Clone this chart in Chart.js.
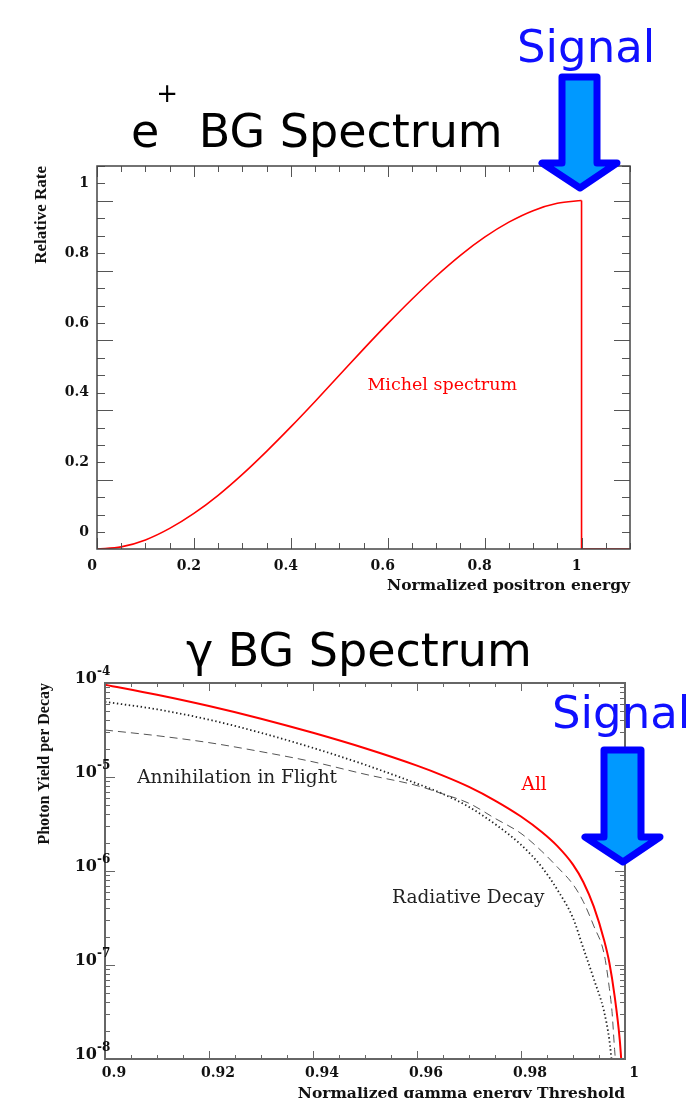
<!DOCTYPE html>
<html>
<head>
<meta charset="utf-8">
<script src="https://cdn.jsdelivr.net/npm/chart.js@4.4.1/dist/chart.umd.min.js"></script>
<style>
  html, body { margin: 0; padding: 0; background: #fff; overflow: hidden; }
  body { width: 700px; height: 1098px; position: relative; }
  .plot { position: absolute; left: 0; }
  #overlay { position: absolute; left: 0; top: 0; z-index: 5; pointer-events: none; }
</style>
</head>
<body>
<div class="plot" style="top:150px"><canvas id="ePlot" width="700" height="460"></canvas></div>
<div class="plot" style="top:660px"><canvas id="gPlot" width="700" height="460"></canvas></div>

<svg id="overlay" width="700" height="1098">
  <text x="131" y="147" font-family="DejaVu Sans" font-size="46" fill="#000">e<tspan dx="-3" dy="-45" font-size="26">+</tspan><tspan dx="6" dy="45"> BG Spectrum</tspan></text>
  <text x="186" y="666" font-family="DejaVu Sans" font-size="46" fill="#000">γ BG Spectrum</text>
  <text x="517" y="62" font-family="DejaVu Sans" font-size="45" fill="#1010ff">Signal</text>
  <text x="552" y="728" font-family="DejaVu Sans" font-size="45" fill="#1010ff">Signal</text>
  <path d="M562 77 L597 77 L597 163 L617 163 L580 188 L542 163 L562 163 Z"
        fill="#0099ff" stroke="#0000ff" stroke-width="7" stroke-linejoin="round"/>
  <path d="M604 750 L641 750 L641 837 L660 837 L623 862 L585 837 L604 837 Z"
        fill="#0099ff" stroke="#0000ff" stroke-width="7" stroke-linejoin="round"/>
</svg>

<script>
// e+ spectrum (Michel)
const positronEnergy = [0, 0.05, 0.1, 0.15, 0.2, 0.25, 0.3, 0.35, 0.4, 0.45, 0.5, 0.55,
  0.6, 0.65, 0.7, 0.75, 0.8, 0.85, 0.9, 0.95, 1.0, 1.0, 1.1];
const michelRate = [-0.048, -0.042, -0.022, 0.011, 0.054, 0.106, 0.166, 0.232, 0.302, 0.375, 0.45, 0.525,
  0.598, 0.668, 0.734, 0.794, 0.846, 0.889, 0.922, 0.943, 0.951, -0.048, -0.048];

// gamma spectrum, three curves
const allX = [0.9, 0.91, 0.92, 0.93, 0.94, 0.95, 0.96, 0.965, 0.97, 0.975, 0.98, 0.984, 0.987,
  0.99, 0.992, 0.994, 0.996, 0.997, 0.998, 0.999, 0.9994];
const allYield = [9.6e-5, 7.5e-5, 5.69e-5, 4.17e-5, 2.95e-5, 2.02e-5, 1.32e-5, 1.035e-5, 7.85e-6, 5.62e-6, 3.8e-6, 2.6e-6, 1.84e-6,
  1.17e-6, 7.6e-7, 4.17e-7, 1.82e-7, 1.05e-7, 4.7e-8, 1.58e-8, 7.9e-9];

const radX = [0.9, 0.91, 0.92, 0.93, 0.94, 0.95, 0.96, 0.965, 0.97, 0.975, 0.98, 0.984, 0.987,
  0.99, 0.992, 0.994, 0.996, 0.997, 0.9975];
const radYield = [6.3e-5, 5.25e-5, 4.07e-5, 2.95e-5, 2.04e-5, 1.35e-5, 8.5e-6, 6.6e-6, 4.8e-6, 3.16e-6, 1.9e-6, 1.1e-6, 6.3e-7,
  3.16e-7, 1.5e-7, 7.1e-8, 3.16e-8, 1.58e-8, 8.9e-9];

const aifX = [0.9, 0.91, 0.92, 0.93, 0.94, 0.95, 0.96, 0.965, 0.97, 0.975, 0.98, 0.984, 0.987,
  0.99, 0.992, 0.994, 0.996, 0.997, 0.9975, 0.998, 0.9983];
const aifYield = [3.16e-5, 2.75e-5, 2.32e-5, 1.86e-5, 1.45e-5, 1.07e-5, 8.1e-6, 6.6e-6, 5.25e-6, 3.63e-6, 2.51e-6, 1.62e-6, 1.1e-6,
  7.2e-7, 4.7e-7, 2.6e-7, 1.3e-7, 5.6e-8, 3.2e-8, 1.26e-8, 8e-9];

const gammaDecades = [1e-4, 1e-5, 1e-6, 1e-7, 1e-8];
const decadeLabels = ['-4', '-5', '-6', '-7', '-8'];

const serifBold = (size) => ({ family: 'DejaVu Serif', weight: 'bold', size });
const pts = (xs, ys) => xs.map((x, i) => ({ x, y: ys[i] }));
const fmt = (v) => String(Number(v.toFixed(3)));

// box + ROOT-style inward ticks on all four sides
const frameTicks = {
  id: 'frameTicks',
  afterDraw(chart, args, o) {
    const { ctx, chartArea: a, scales: { x, y } } = chart;
    ctx.save();
    ctx.strokeStyle = o.tickColor;
    ctx.lineWidth = 1;
    ctx.beginPath();
    o.xTicks.forEach(([v, len]) => {
      const px = Math.round(x.getPixelForValue(v)) + 0.5;
      ctx.moveTo(px, a.bottom); ctx.lineTo(px, a.bottom - len);
      ctx.moveTo(px, a.top); ctx.lineTo(px, a.top + len);
    });
    o.yTicks.forEach(([v, len]) => {
      const py = Math.round(y.getPixelForValue(v)) + 0.5;
      ctx.moveTo(a.left, py); ctx.lineTo(a.left + len, py);
      ctx.moveTo(a.right, py); ctx.lineTo(a.right - len, py);
    });
    ctx.stroke();
    ctx.strokeStyle = o.color;
    ctx.lineWidth = o.width;
    ctx.strokeRect(a.left, a.top, a.right - a.left, a.bottom - a.top);
    ctx.restore();
  }
};

// text notes placed in data coordinates
const notes = {
  id: 'notes',
  afterDraw(chart, args, o) {
    const { ctx, scales: { x, y } } = chart;
    ctx.save();
    ctx.textAlign = 'left';
    ctx.textBaseline = 'alphabetic';
    o.items.forEach(n => {
      ctx.font = n.font;
      ctx.fillStyle = n.color;
      ctx.fillText(n.text, x.getPixelForValue(n.x), y.getPixelForValue(n.y));
    });
    ctx.restore();
  }
};

// 10^n labels for the log axis
const powerLabels = {
  id: 'powerLabels',
  afterDraw(chart) {
    const { ctx, chartArea: a, scales: { y } } = chart;
    ctx.save();
    ctx.fillStyle = '#111';
    ctx.textBaseline = 'alphabetic';
    gammaDecades.forEach((v, i) => {
      const py = y.getPixelForValue(v);
      ctx.font = 'bold 16px "DejaVu Serif"';
      ctx.textAlign = 'right';
      ctx.fillText('10', a.left - 8, py);
      ctx.font = 'bold 12px "DejaVu Serif"';
      ctx.textAlign = 'left';
      ctx.fillText(decadeLabels[i], a.left - 8, py - 8);
    });
    ctx.restore();
  }
};

// tick mark tables (decoration only)
const eXTicks = [], eYTicks = [], gXTicks = [], gYTicks = [];
for (let k = 0; k <= 22; k++) eXTicks.push([k * 0.05, k % 4 === 0 ? 11 : 6]);
for (let k = 0; k <= 21; k++) eYTicks.push([k * 0.05, k % 4 === 3 ? 16 : 8]);
for (let k = 0; k <= 20; k++) gXTicks.push([0.9 + k * 0.005, k % 4 === 0 ? 8 : 4]);
for (let d = -8; d <= -5; d++) for (let m = 1; m <= 9; m++) gYTicks.push([m * Math.pow(10, d), m === 1 ? 10 : 5]);
gYTicks.push([1e-4, 10]);

const michelPts = pts(positronEnergy, michelRate);
const redLine = { borderColor: '#ff0000', borderWidth: 1.6, pointRadius: 0, fill: false, clip: 0 };

new Chart(document.getElementById('ePlot'), {
  type: 'line',
  data: {
    datasets: [
      // rising part, then the edge at x = 1 and the empty tail
      { ...redLine, data: michelPts.slice(0, 21), cubicInterpolationMode: 'monotone' },
      { ...redLine, data: michelPts.slice(20), tension: 0 }
    ]
  },
  options: {
    responsive: false,
    animation: false,
    devicePixelRatio: 1,
    layout: { padding: { top: 16, right: 70, left: 0, bottom: 0 } },
    plugins: {
      legend: { display: false },
      tooltip: { enabled: false },
      frameTicks: { color: '#444', width: 1.5, tickColor: '#555', xTicks: eXTicks, yTicks: eYTicks },
      notes: { items: [{ text: 'Michel spectrum', x: 0.558, y: 0.408, font: '17.5px "DejaVu Serif"', color: '#ff0000' }] }
    },
    scales: {
      x: {
        type: 'linear', min: 0, max: 1.1,
        grid: { display: false, drawTicks: false },
        border: { display: false },
        ticks: { stepSize: 0.2, includeBounds: false, padding: 9, labelOffset: -5, maxRotation: 0, autoSkip: false,
          color: '#111', font: serifBold(14), callback: fmt },
        title: { display: true, text: 'Normalized positron energy', align: 'end', color: '#111',
          font: serifBold(15.5), padding: { top: 0, bottom: 15 } },
        afterFit(s) { s.height = 61; s.paddingLeft = 0; s.paddingRight = 0; }
      },
      y: {
        type: 'linear', min: -0.048, max: 1.05,
        grid: { display: false, drawTicks: false },
        border: { display: false },
        ticks: { stepSize: 0.2, includeBounds: false, padding: 8, color: '#111', font: serifBold(14), callback: fmt },
        title: { display: true, text: 'Relative Rate', align: 'end', color: '#111',
          font: { family: 'Liberation Serif', weight: 'bold', size: 17 }, padding: { top: 31, bottom: 0 } },
        afterFit(s) { s.width = 97; s.paddingTop = 0; s.paddingBottom = 0; }
      }
    }
  },
  plugins: [frameTicks, notes]
});

new Chart(document.getElementById('gPlot'), {
  type: 'line',
  data: {
    datasets: [
      { label: 'Annihilation in Flight', data: pts(aifX, aifYield), borderColor: '#555', borderWidth: 1,
        borderDash: [8, 5], pointRadius: 0, cubicInterpolationMode: 'monotone', fill: false, clip: 0 },
      { label: 'Radiative Decay', data: pts(radX, radYield), borderColor: '#222', borderWidth: 1.8,
        borderDash: [1.4, 2.6], pointRadius: 0, cubicInterpolationMode: 'monotone', fill: false, clip: 0 },
      { label: 'All', data: pts(allX, allYield), borderColor: '#ff0000', borderWidth: 2,
        pointRadius: 0, cubicInterpolationMode: 'monotone', fill: false, clip: 0 }
    ]
  },
  options: {
    responsive: false,
    animation: false,
    devicePixelRatio: 1,
    layout: { padding: { top: 23, right: 75, left: 0, bottom: 0 } },
    plugins: {
      legend: { display: false },
      tooltip: { enabled: false },
      frameTicks: { color: '#666', width: 2, tickColor: '#666', xTicks: gXTicks, yTicks: gYTicks },
      notes: { items: [
        { text: 'Annihilation in Flight', x: 0.9062, y: 8.57e-6, font: '18.5px "DejaVu Serif"', color: '#222' },
        { text: 'Radiative Decay', x: 0.9552, y: 4.54e-7, font: '18.5px "DejaVu Serif"', color: '#222' },
        { text: 'All', x: 0.9801, y: 7.23e-6, font: '18.5px "DejaVu Serif"', color: '#ff0000' }
      ] }
    },
    scales: {
      x: {
        type: 'linear', min: 0.9, max: 1.0,
        grid: { display: false, drawTicks: false },
        border: { display: false },
        ticks: { stepSize: 0.02, includeBounds: false, padding: 6, labelOffset: 9, maxRotation: 0, autoSkip: false,
          color: '#111', font: serifBold(14), callback: fmt },
        title: { display: true, text: 'Normalized gamma energy Threshold', align: 'end', color: '#111',
          font: serifBold(15.5), padding: { top: 0, bottom: 17 } },
        afterFit(s) { s.height = 61; s.paddingLeft = 0; s.paddingRight = 0; }
      },
      y: {
        type: 'logarithmic', min: 1e-8, max: 1e-4,
        grid: { display: false, drawTicks: false },
        border: { display: false },
        ticks: { display: false },
        title: { display: true, text: 'Photon Yield per Decay', align: 'end', color: '#111',
          font: { family: 'Liberation Serif', weight: 'bold', size: 16 }, padding: { top: 35, bottom: 0 } },
        afterFit(s) { s.width = 105; s.paddingTop = 0; s.paddingBottom = 0; }
      }
    }
  },
  plugins: [frameTicks, notes, powerLabels]
});
</script>
</body>
</html>
